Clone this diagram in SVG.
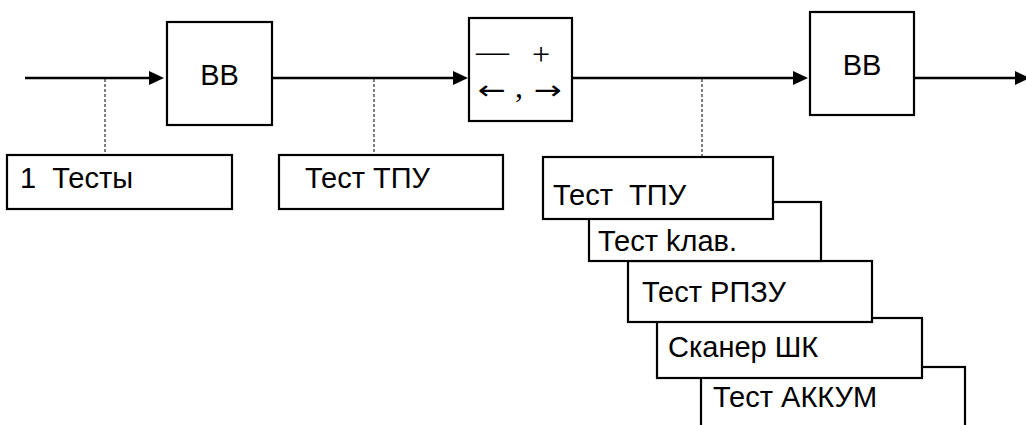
<svg xmlns="http://www.w3.org/2000/svg" width="1026" height="425" viewBox="0 0 1026 425">
<style>
.box{fill:#fff;stroke:#000;stroke-width:2.2}
.ln{fill:none;stroke:#000;stroke-width:2.6}
.dash{fill:none;stroke:#000;stroke-width:1;stroke-dasharray:3 2}
.t{font-family:"Liberation Sans",Arial,sans-serif;font-size:29px;fill:#000}
.s{font-family:"Liberation Serif","Times New Roman",serif;font-size:32px;fill:#000}
.a{font-family:"DejaVu Sans",sans-serif;font-size:26px;fill:#000}
</style>
<defs>
<marker id="ah" markerUnits="userSpaceOnUse" markerWidth="16" markerHeight="16" viewBox="0 0 16 16" refX="8" refY="8" orient="auto">
<path d="M1,1 L16,8 L1,15 Z" fill="#000"/>
</marker>
</defs>
<g id="connectors">
<path class="ln" d="M25,78 H156" marker-end="url(#ah)"/>
<path class="ln" d="M272,78 H460" marker-end="url(#ah)"/>
<path class="ln" d="M572,78 H800" marker-end="url(#ah)"/>
<path class="ln" d="M914,78 H1022" marker-end="url(#ah)"/>
<path class="dash" d="M105,79 V155"/>
<path class="dash" d="M374,79 V155"/>
<path class="dash" d="M702,79 V157"/>
</g>
<g id="bb1">
<rect class="box" x="167" y="22" width="105" height="103"/>
<text class="t" x="219.5" y="85" text-anchor="middle">BB</text>
</g>
<g id="pm">
<rect class="box" x="469" y="18" width="103" height="103"/>
<text class="s" x="476" y="62" textLength="33" lengthAdjust="spacingAndGlyphs">—</text>
<text class="s" x="541" y="65" text-anchor="middle">+</text>
<text class="a" x="478" y="99" textLength="28" lengthAdjust="spacingAndGlyphs">←</text>
<text class="s" x="515" y="97">,</text>
<text class="a" x="534" y="99" textLength="28" lengthAdjust="spacingAndGlyphs">→</text>
</g>
<g id="bb2">
<rect class="box" x="810" y="12" width="104" height="103"/>
<text class="t" x="862" y="75" text-anchor="middle">BB</text>
</g>
<g id="tests1">
<rect class="box" x="7" y="155" width="225" height="54"/>
<text class="t" x="20" y="188" xml:space="preserve">1  Тесты</text>
</g>
<g id="testTPU">
<rect class="box" x="279" y="155" width="224" height="54"/>
<text class="t" x="305" y="188">Тест ТПУ</text>
</g>
<g id="testAKKUM">
<rect class="box" x="701" y="367" width="264" height="70"/>
<text class="t" x="713" y="407">Тест АККУМ</text>
</g>
<g id="scanner">
<rect class="box" x="657" y="318" width="265" height="60"/>
<text class="t" x="668" y="357">Сканер ШК</text>
</g>
<g id="testRPZU">
<rect class="box" x="628" y="261" width="244" height="61"/>
<text class="t" x="642" y="302">Тест РПЗУ</text>
</g>
<g id="testKlav">
<rect class="box" x="589" y="202" width="232" height="59"/>
<text class="t" x="598" y="251">Тест kлав.</text>
</g>
<g id="testTPU2">
<rect class="box" x="543" y="157" width="230" height="62"/>
<text class="t" x="553" y="205" xml:space="preserve">Тест  ТПУ</text>
</g>
</svg>
